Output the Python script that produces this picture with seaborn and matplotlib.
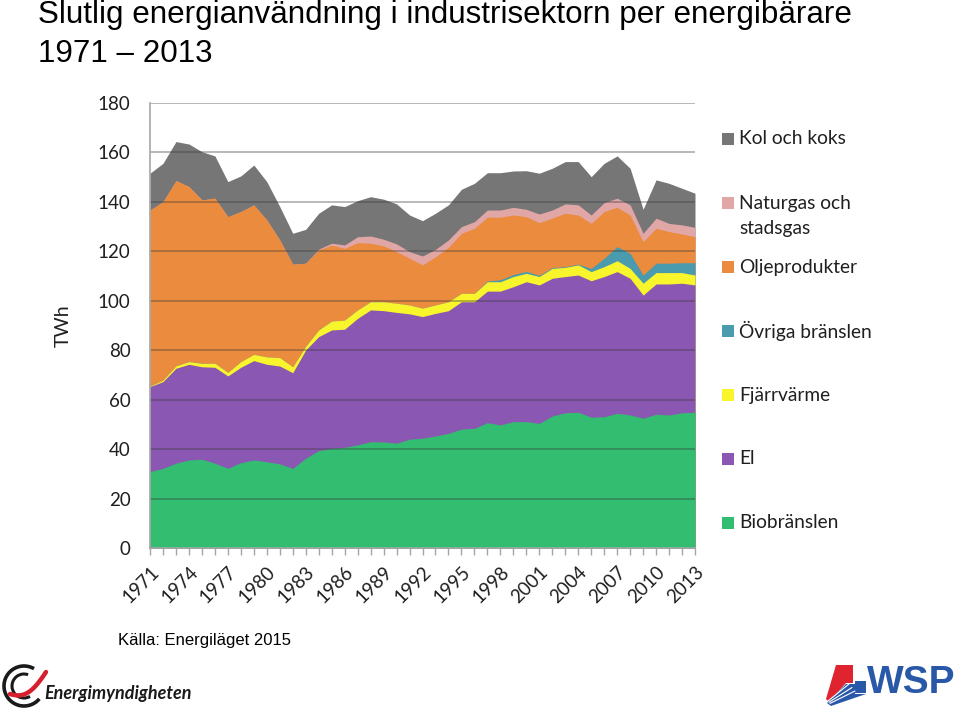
import matplotlib
matplotlib.use("Agg")
import matplotlib.pyplot as plt
import seaborn as sns
import numpy as np
import pandas as pd
from matplotlib.patches import Rectangle, Polygon, Arc

# ---------------- data ----------------
years = list(range(1971, 2014))
tick_years = [1971, 1974, 1977, 1980, 1983, 1986, 1989, 1992, 1995, 1998, 2001, 2004, 2007, 2010, 2013]
y_ticks = [0, 20, 40, 60, 80, 100, 120, 140, 160, 180]

biobranslen = [30.9, 32.2, 34.3, 35.6, 35.9, 34.3, 32.2, 34.5, 35.6, 34.9,
               34.0, 32.2, 36.3, 39.4, 40.3, 40.7, 41.7, 43.0, 42.9, 42.4,
               44.0, 44.4, 45.3, 46.4, 48.1, 48.4, 50.7, 49.8, 51.1, 51.1,
               50.4, 53.4, 54.7, 54.9, 52.9, 53.1, 54.5, 53.8, 52.5, 54.1,
               53.8, 54.7, 54.9]
el = [34.4, 35.1, 38.4, 38.7, 37.4, 38.8, 37.4, 38.6, 40.2, 39.4,
      39.6, 38.7, 43.8, 46.1, 47.9, 47.8, 51.2, 53.3, 53.1, 52.9,
      50.7, 49.2, 49.6, 49.6, 51.5, 51.2, 53.2, 54.1, 54.6, 56.6,
      56.0, 55.7, 55.1, 55.5, 55.2, 56.7, 57.3, 55.3, 49.8, 52.7,
      53.0, 52.4, 51.5]
fjarrvarme = [0.2, 0.6, 1.0, 1.1, 1.4, 1.6, 1.4, 2.3, 2.5, 3.0,
              3.4, 2.4, 1.5, 2.7, 3.6, 3.7, 3.4, 3.3, 3.6, 3.7,
              3.6, 3.4, 3.4, 3.6, 3.4, 3.4, 3.8, 3.8, 4.1, 3.4,
              3.4, 4.0, 3.7, 4.1, 3.7, 4.0, 4.4, 4.0, 4.8, 4.6,
              4.6, 4.3, 4.0]
ovriga = [0, 0, 0, 0, 0, 0, 0, 0, 0, 0,
          0, 0, 0, 0, 0, 0, 0, 0, 0, 0,
          0, 0, 0, 0, 0, 0, 0.3, 0.8, 0.8, 0.8,
          0.5, 0.3, 0.3, 0.3, 1.3, 3.4, 5.7, 6.1, 3.3, 3.8,
          3.8, 4.0, 5.0]
oljeprodukter = [71.2, 72.2, 74.9, 70.8, 66.1, 66.8, 63.0, 60.7, 60.5, 55.4,
                 47.6, 41.5, 33.6, 32.4, 30.7, 29.0, 27.2, 23.7, 22.6, 20.9,
                 18.9, 17.5, 19.5, 22.0, 24.3, 26.3, 25.8, 25.3, 24.1, 22.1,
                 21.3, 20.0, 21.6, 19.9, 18.2, 18.9, 15.9, 15.5, 13.5, 14.1,
                 12.8, 11.6, 10.5]
naturgas = [0, 0, 0, 0, 0, 0, 0, 0, 0, 0,
            0, 0, 0, 0.3, 0.8, 1.4, 2.4, 2.9, 2.7, 3.1,
            2.7, 3.6, 3.0, 3.0, 2.7, 2.7, 2.9, 2.9, 3.1, 3.0,
            3.5, 3.3, 3.8, 4.1, 3.4, 3.6, 3.7, 4.1, 3.4, 4.1,
            3.3, 3.7, 3.8]
kol = [14.9, 15.5, 15.8, 17.2, 19.5, 17.1, 14.2, 14.4, 16.1, 15.5,
       13.5, 12.5, 13.7, 14.5, 15.5, 15.5, 14.6, 15.9, 16.2, 16.2,
       14.8, 14.3, 14.6, 14.2, 15.1, 15.5, 15.1, 15.1, 14.7, 15.6,
       16.5, 16.9, 17.1, 17.5, 15.5, 15.9, 17.1, 14.8, 9.7, 15.5,
       16.2, 14.8, 13.8]

series_names = ["Biobränslen", "El", "Fjärrvärme", "Övriga bränslen",
                "Oljeprodukter", "Naturgas och stadsgas", "Kol och koks"]
series_colors = ["#33BD71", "#8A57B2", "#F9F52C", "#4B9BAE",
                 "#EA8B3D", "#E1A6A6", "#767676"]

df = pd.DataFrame({
    "Biobränslen": biobranslen, "El": el, "Fjärrvärme": fjarrvarme,
    "Övriga bränslen": ovriga, "Oljeprodukter": oljeprodukter,
    "Naturgas och stadsgas": naturgas, "Kol och koks": kol,
}, index=years)

# ---------------- style ----------------
sns.set_theme(style="white")
plt.rcParams["font.family"] = ["Lato", "DejaVu Sans"]
TXT = "#1f1f1f"

W, H = 960, 709
fig = plt.figure(figsize=(W / 100, H / 100), dpi=100)
fig.patch.set_facecolor("white")

ax = fig.add_axes([150 / W, 1 - 548 / H, 545 / W, 445 / H])

cum = df[series_names].cumsum(axis=1)
# draw from the top layer down so adjacent layers leave no seams
for name, col in reversed(list(zip(series_names, series_colors))):
    ax.fill_between(df.index, 0, cum[name], color=col, linewidth=0, zorder=2)

ax.set_xlim(years[0], years[-1])
ax.set_ylim(0, 180)
ax.set_yticks(y_ticks)
for yv in y_ticks[1:]:
    ax.axhline(yv, color="#3a3a3a", alpha=0.42, lw=1.2, zorder=3)

ax.set_xticks(years)
ax.set_xticklabels([str(y) if y in tick_years else "" for y in years],
                   rotation=45, ha="right", rotation_mode="anchor")
ax.tick_params(axis="x", direction="out", length=5, width=1, color="#a6a6a6",
               pad=6, labelsize=13.5, labelcolor=TXT, bottom=True)
ax.tick_params(axis="y", length=0, pad=14, labelsize=13.5, labelcolor=TXT)
ax.set_ylabel("TWh", fontsize=14, color=TXT)
ax.yaxis.set_label_coords(-0.143, 0.5)

sns.despine(ax=ax, top=True, right=True)
for s in ("left", "bottom"):
    ax.spines[s].set_color("#a6a6a6")
    ax.spines[s].set_linewidth(1.2)
    ax.spines[s].set_zorder(4)

# ---------------- overlay (pixel coordinates) ----------------
ov = fig.add_axes([0, 0, 1, 1], facecolor="none")
ov.set_xlim(0, W)
ov.set_ylim(H, 0)
ov.axis("off")

# legend
legend_items = [
    ("Kol och koks", "#767676", 139),
    ("Naturgas och", "#E1A6A6", 203),
    ("Oljeprodukter", "#EA8B3D", 267),
    ("Övriga bränslen", "#4B9BAE", 331),
    ("Fjärrvärme", "#F9F52C", 395),
    ("El", "#8A57B2", 459),
    ("Biobränslen", "#33BD71", 523),
]
for label, col, yc in legend_items:
    ov.add_patch(Rectangle((722, yc - 6), 12, 12, color=col, lw=0))
    ov.text(739, yc, label, fontsize=13.8, color=TXT, va="center", ha="left")
ov.text(739, 228.5, "stadsgas", fontsize=13.8, color=TXT, va="center", ha="left")

# title
ov.text(38, 23.5, "Slutlig energianvändning i industrisektorn per energibärare",
        fontsize=22.6, family=["Liberation Sans", "DejaVu Sans"], color="black",
        va="baseline", ha="left")
ov.text(38, 62, "1971 – 2013", fontsize=22.6, family=["Liberation Sans", "DejaVu Sans"],
        color="black", va="baseline", ha="left")

# source
ov.text(118, 645, "Källa: Energiläget 2015", fontsize=12,
        family=["Liberation Sans", "DejaVu Sans"], color="black", va="baseline", ha="left")

# Energimyndigheten logo
ov.add_patch(Arc((24, 686), 40, 40, theta1=40, theta2=300, color="#1a1a1a", lw=2.6))
ov.add_patch(Arc((24, 686), 24, 24, theta1=60, theta2=290, color="#1a1a1a", lw=2.2))
t = np.linspace(0, 1, 30)
ov.plot(10 + 36 * t, 694 - 8 * t - 14 * t ** 2 + 6 * np.sin(np.pi * t),
        color="#d6202e", lw=3.2, solid_capstyle="round")
ov.text(44, 699, "Energimyndigheten", fontsize=13, fontweight="bold", style="italic",
        color="#1a1a1a", va="baseline", ha="left")

# WSP logo
ov.add_patch(Polygon([(836, 665), (853, 665), (853, 683), (846, 683), (829, 702), (826, 699)],
                     closed=True, color="#E0242F", lw=0))
ov.add_patch(Polygon([(855, 681), (866, 681), (866, 693), (855, 693)], closed=True,
                     color="#2A58A8", lw=0))
ov.add_patch(Polygon([(846, 684), (855, 684), (855, 694), (866, 694), (831, 706), (827, 703)],
                     closed=True, color="#2A58A8", lw=0))
for k in range(3):
    ov.plot([828 + k, 849 + 3 * k], [701 + k * 1.2, 684 + 3.5 * k], color="white", lw=0.8)
ov.text(867, 693, "WSP", fontsize=28, fontweight="bold", family=["Liberation Sans", "DejaVu Sans"],
        color="#2A58A8", va="baseline", ha="left")

fig.savefig("out.png", dpi=100)
